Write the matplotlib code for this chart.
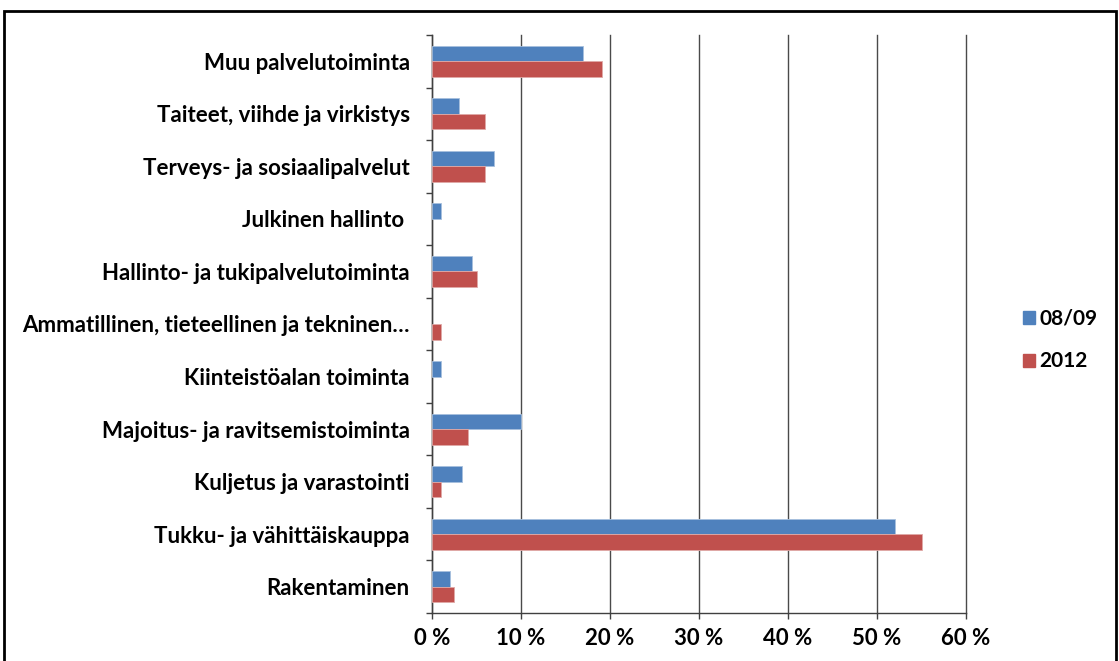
import matplotlib
matplotlib.use("Agg")
import matplotlib.pyplot as plt
from matplotlib.patches import Rectangle, Patch
import numpy as np

categories = [
    "Rakentaminen",
    "Tukku- ja vähittäiskauppa",
    "Kuljetus ja varastointi",
    "Majoitus- ja ravitsemistoiminta",
    "Kiinteistöalan toiminta",
    "Ammatillinen, tieteellinen ja tekninen…",
    "Hallinto- ja tukipalvelutoiminta",
    "Julkinen hallinto ",
    "Terveys- ja sosiaalipalvelut",
    "Taiteet, viihde ja virkistys",
    "Muu palvelutoiminta",
]
series_0809 = [2.0, 52.0, 3.4, 10.0, 1.0, 0.0, 4.5, 1.0, 7.0, 3.0, 17.0]
series_2012 = [2.45, 55.1, 1.0, 4.0, 0.0, 1.0, 5.0, 0.0, 6.0, 6.0, 19.1]
series_names = ["08/09", "2012"]
xticks = [0, 10, 20, 30, 40, 50, 60]
xtick_labels = ["0 %", "10 %", "20 %", "30 %", "40 %", "50 %", "60 %"]

blue = "#4F81BD"
red = "#C0504D"
FONT = "Lato"
FS = 16

fig = plt.figure(figsize=(11.19, 6.61), dpi=100)
fig.patch.set_facecolor("white")
ax = fig.add_axes([432/1119, 1-613/661, (966-432)/1119, (613-35)/661])

y = np.arange(len(categories))
h = 0.295
lw_b = [0.6 if v > 0 else 0 for v in series_0809]
lw_r = [0.6 if v > 0 else 0 for v in series_2012]
ax.barh(y + h/2, series_0809, height=h, color=blue, edgecolor="#A7C0DE", linewidth=lw_b, zorder=3)
ax.barh(y - h/2, series_2012, height=h, color=red, edgecolor="#E0A9A7", linewidth=lw_r, zorder=3)

ax.set_xlim(0, 60)
ax.set_ylim(-0.5, len(categories) - 0.5)
ax.set_xticks(xticks)
ax.set_xticklabels(xtick_labels, fontfamily=FONT, fontweight="bold", fontsize=FS)
ax.set_yticks(y)
ax.set_yticklabels(categories, fontfamily=FONT, fontweight="bold", fontsize=FS)
ax.set_yticks(np.arange(len(categories) + 1) - 0.5, minor=True)
ax.tick_params(axis="y", which="major", length=0, pad=16)
ax.tick_params(axis="y", which="minor", length=4, width=1, color="#404040", direction="out")
ax.tick_params(axis="x", which="major", length=4, width=1, color="#404040", direction="out", pad=7)

ax.grid(axis="x", color="#4a4a4a", linewidth=1, zorder=0)
for gl in ax.get_xgridlines():
    gl.set_clip_on(False)
ax.set_axisbelow(True)
for s in ["top", "right"]:
    ax.spines[s].set_visible(False)
for s in ["left", "bottom"]:
    ax.spines[s].set_color("#404040")
    ax.spines[s].set_linewidth(1)

handles = [Patch(facecolor=blue, edgecolor=blue), Patch(facecolor=red, edgecolor=red)]
leg = fig.legend(handles, series_names, loc="center left",
                 bbox_to_anchor=(1004/1119, 1-340/661), frameon=False,
                 prop={"family": FONT, "weight": "bold", "size": 15},
                 handlelength=0.6, handleheight=0.6, handletextpad=0.2, labelspacing=1.1)

fig.patches.append(Rectangle((4/1119, -0.05), (1116-4)/1119, 1.05 - 11/661,
                             transform=fig.transFigure, fill=False,
                             edgecolor="black", linewidth=2))

fig.savefig("out.png", dpi=100)
